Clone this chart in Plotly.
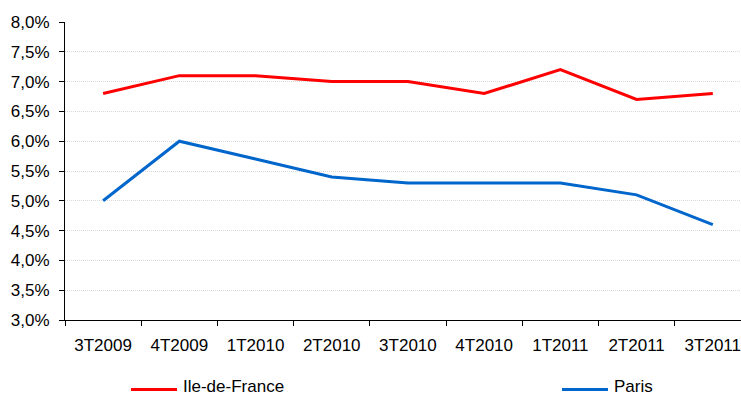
import plotly.graph_objects as go

quarters = ["3T2009", "4T2009", "1T2010", "2T2010", "3T2010", "4T2010", "1T2011", "2T2011", "3T2011"]
idf_rate = [6.8, 7.1, 7.1, 7.0, 7.0, 6.8, 7.2, 6.7, 6.8]
paris_rate = [5.0, 6.0, 5.7, 5.4, 5.3, 5.3, 5.3, 5.1, 4.6]
y_ticks = [3.0, 3.5, 4.0, 4.5, 5.0, 5.5, 6.0, 6.5, 7.0, 7.5, 8.0]
y_tick_text = [f"{v:.1f}%".replace(".", ",") for v in y_ticks]

series = [
    ("Ile-de-France", idf_rate, "#FF0000"),
    ("Paris", paris_rate, "#0066CC"),
]

font_family = "Liberation Sans, Arial, sans-serif"
font_size = 17

# plot area geometry (pixels), used to place the key below the axis
W, H = 741, 396
M_L, M_R, M_T, M_B = 65, 0, 22, 76
plot_w = W - M_L - M_R
plot_h = H - M_T - M_B


def px_x(px):
    return (px - M_L) / plot_w


def px_y(py):
    return (H - M_B - py) / plot_h


fig = go.Figure()
for name, values, color in series:
    fig.add_trace(go.Scatter(x=quarters, y=values, mode="lines", name=name,
                             line=dict(color=color, width=3), showlegend=False))

# horizontal key under the chart: a short line sample followed by the series name
key_starts = [131, 562]
key_len = 46
for (name, _, color), x0 in zip(series, key_starts):
    fig.add_shape(type="line", xref="paper", yref="paper",
                  x0=px_x(x0), x1=px_x(x0 + key_len), y0=px_y(389.5), y1=px_y(389.5),
                  line=dict(color=color, width=3))
    fig.add_annotation(xref="paper", yref="paper", x=px_x(x0 + key_len + 4), y=px_y(386.5),
                       xanchor="left", yanchor="middle", text=name, showarrow=False,
                       font=dict(size=font_size, family=font_family, color="#000000"))

fig.update_layout(
    width=W, height=H,
    margin=dict(l=M_L, r=M_R, t=M_T, b=M_B),
    paper_bgcolor="white", plot_bgcolor="white",
    font=dict(family=font_family, size=font_size, color="#000000"),
    showlegend=False,
)
fig.update_xaxes(
    type="category", range=[-0.5, 8.37],
    showline=True, linecolor="#000000", linewidth=1,
    ticks="outside", ticklen=5, tickcolor="#000000", tickson="boundaries",
    showgrid=False, ticklabelstandoff=10,
    tickfont=dict(size=font_size, family=font_family),
)
fig.update_yaxes(
    range=[3.0, 8.0], tickvals=y_ticks, ticktext=y_tick_text,
    showline=True, linecolor="#000000", linewidth=1,
    ticks="outside", ticklen=5, tickcolor="#000000",
    showgrid=True, gridcolor="#D9D9D9", gridwidth=1, griddash="1px,1px",
    zeroline=False, ticklabelstandoff=6,
    tickfont=dict(size=font_size, family=font_family),
)

fig.write_html("out.html")
